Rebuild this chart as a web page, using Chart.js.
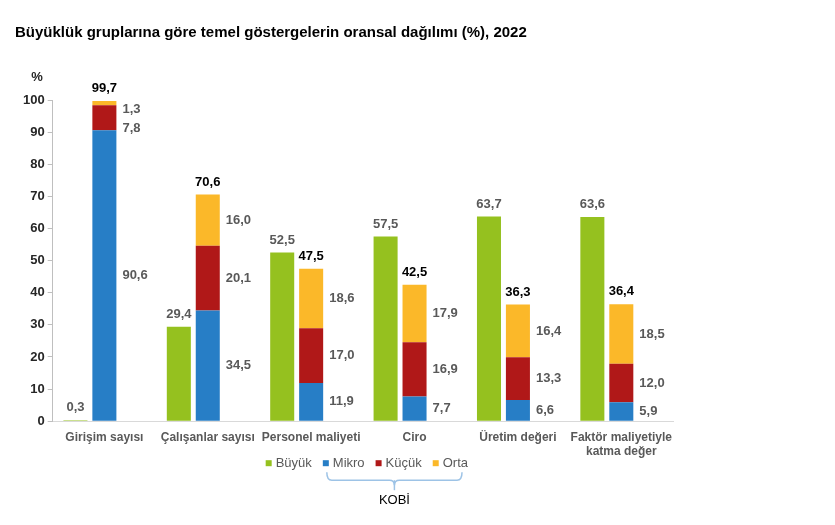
<!DOCTYPE html>
<html lang="tr">
<head>
<meta charset="utf-8">
<script src="https://cdn.jsdelivr.net/npm/chart.js@4.4.1/dist/chart.umd.min.js"></script>
<style>
  html, body { margin: 0; padding: 0; background: #fff; }
  #wrap { position: relative; width: 835px; height: 525px; }
</style>
</head>
<body>
<div id="wrap"><canvas id="chart"></canvas></div>
<script>
const FONT = '"Liberation Sans", Arial, sans-serif';

const categories = [
  "Girişim sayısı",
  "Çalışanlar sayısı",
  "Personel maliyeti",
  "Ciro",
  "Üretim değeri",
  ["Faktör maliyetiyle", "katma değer"],
];
const buyuk = [0.3, 29.4, 52.5, 57.5, 63.7, 63.6];
const mikro = [90.6, 34.5, 11.9, 7.7, 6.6, 5.9];
const kucuk = [7.8, 20.1, 17.0, 16.9, 13.3, 12.0];
const orta = [1.3, 16.0, 18.6, 17.9, 16.4, 18.5];
const kobiTotal = [99.7, 70.6, 47.5, 42.5, 36.3, 36.4];

const fmt = (v) => v.toFixed(1).replace(".", ",");

// value labels next to / above the bars, legend with KOBİ bracket, title
const decorations = {
  id: "decorations",
  afterDatasetsDraw(chart) {
    const ctx = chart.ctx;
    const metas = [0, 1, 2, 3].map((i) => chart.getDatasetMeta(i));
    ctx.save();
    ctx.font = `bold 13px ${FONT}`;
    categories.forEach((c, i) => {
      const g = metas[0].data[i];
      ctx.textAlign = "center";
      ctx.textBaseline = "bottom";
      ctx.fillStyle = "#595959";
      ctx.fillText(fmt(buyuk[i]), g.x, g.y - 6);

      const top = metas[3].data[i];
      ctx.fillStyle = "#000";
      ctx.fillText(fmt(kobiTotal[i]), top.x, top.y - 6);

      ctx.textAlign = "left";
      ctx.textBaseline = "middle";
      ctx.fillStyle = "#595959";
      let prev = -Infinity;
      [[3, orta], [2, kucuk], [1, mikro]].forEach(([d, vals]) => {
        const el = metas[d].data[i];
        let y = (el.y + el.base) / 2;
        y = Math.max(y, top.y + 8, prev + 19);
        ctx.fillText(fmt(vals[i]), el.x + el.width / 2 + 6, y);
        prev = y;
      });
    });
    ctx.restore();
  },
  afterDraw(chart) {
    const ctx = chart.ctx;
    const area = chart.chartArea;
    ctx.save();
    // title
    ctx.fillStyle = "#000";
    ctx.font = `bold 15px ${FONT}`;
    ctx.textAlign = "left";
    ctx.textBaseline = "middle";
    ctx.fillText("Büyüklük gruplarına göre temel göstergelerin oransal dağılımı (%), 2022", 15, 33);
    // % unit
    ctx.font = `bold 13px ${FONT}`;
    ctx.fillStyle = "#262626";
    ctx.textAlign = "center";
    ctx.fillText("%", 37, 77);

    // legend
    const items = chart.data.datasets.filter((d) => d.label !== "");
    ctx.font = `13px ${FONT}`;
    const box = 6, gapText = 4, gapItem = 11;
    const widths = items.map((d) => box + gapText + ctx.measureText(d.label).width);
    const total = widths.reduce((a, b) => a + b, 0) + gapItem * (items.length - 1);
    let x = (area.left + area.right) / 2 + 4 - total / 2;
    const ly = area.bottom + 42;
    const spans = [];
    ctx.textAlign = "left";
    ctx.textBaseline = "middle";
    items.forEach((d, i) => {
      ctx.fillStyle = d.backgroundColor;
      ctx.fillRect(x, ly - box / 2, box, box);
      ctx.fillStyle = "#595959";
      ctx.fillText(d.label, x + box + gapText, ly);
      spans.push([x, x + widths[i]]);
      x += widths[i] + gapItem;
    });

    // KOBİ bracket under Mikro..Orta
    const x1 = spans[1][0] + 4;
    const x2 = spans[3][1] - 6;
    const y0 = ly + 9;
    const yl = ly + 17;
    const xm = (x1 + x2) / 2;
    const r = 5;
    ctx.strokeStyle = "#9dc3e6";
    ctx.lineWidth = 1.5;
    ctx.beginPath();
    ctx.moveTo(x1, y0);
    ctx.quadraticCurveTo(x1, yl, x1 + r, yl);
    ctx.lineTo(xm - r, yl);
    ctx.quadraticCurveTo(xm, yl, xm, yl + r);
    ctx.quadraticCurveTo(xm, yl, xm + r, yl);
    ctx.lineTo(x2 - r, yl);
    ctx.quadraticCurveTo(x2, yl, x2, y0);
    ctx.stroke();
    ctx.beginPath();
    ctx.moveTo(xm, yl);
    ctx.lineTo(xm, yl + 10);
    ctx.stroke();
    ctx.fillStyle = "#000";
    ctx.font = `13px ${FONT}`;
    ctx.textAlign = "center";
    ctx.fillText("KOBİ", xm, yl + 20);
    ctx.restore();
  },
};

const bar = { borderWidth: 0, barPercentage: 0.83, categoryPercentage: 0.84 };

new Chart(document.getElementById("chart"), {
  type: "bar",
  data: {
    labels: categories,
    datasets: [
      { ...bar, label: "Büyük", data: buyuk, backgroundColor: "#95c11f", stack: "b" },
      { ...bar, label: "Mikro", data: mikro, backgroundColor: "#277ec6", stack: "k" },
      { ...bar, label: "Küçük", data: kucuk, backgroundColor: "#b01818", stack: "k" },
      { ...bar, label: "Orta", data: orta, backgroundColor: "#fbb829", stack: "k" },
      // empty third slot, keeps the two visible bars left of the category centre
      { ...bar, label: "", data: categories.map(() => 0), backgroundColor: "rgba(0,0,0,0)", stack: "z" },
    ],
  },
  options: {
    responsive: true,
    maintainAspectRatio: false,
    animation: false,
    layout: { padding: { left: 20, right: 162, top: 100, bottom: 65 } },
    plugins: {
      title: { display: false },
      tooltip: { enabled: false },
      legend: { display: false },
    },
    scales: {
      x: {
        stacked: true,
        grid: { display: false },
        border: { color: "#d9d9d9" },
        ticks: {
          color: "#595959",
          font: { size: 12, weight: "bold", family: FONT },
          padding: 1,
          maxRotation: 0,
          autoSkip: false,
        },
      },
      y: {
        stacked: true,
        min: 0,
        max: 100,
        grid: { drawOnChartArea: false, drawTicks: true, tickLength: 5, color: "#bfbfbf" },
        border: { color: "#bfbfbf" },
        ticks: {
          stepSize: 10,
          padding: 3,
          color: "#262626",
          font: { size: 13, weight: "bold", family: FONT },
        },
      },
    },
  },
  plugins: [decorations],
});
</script>
</body>
</html>
